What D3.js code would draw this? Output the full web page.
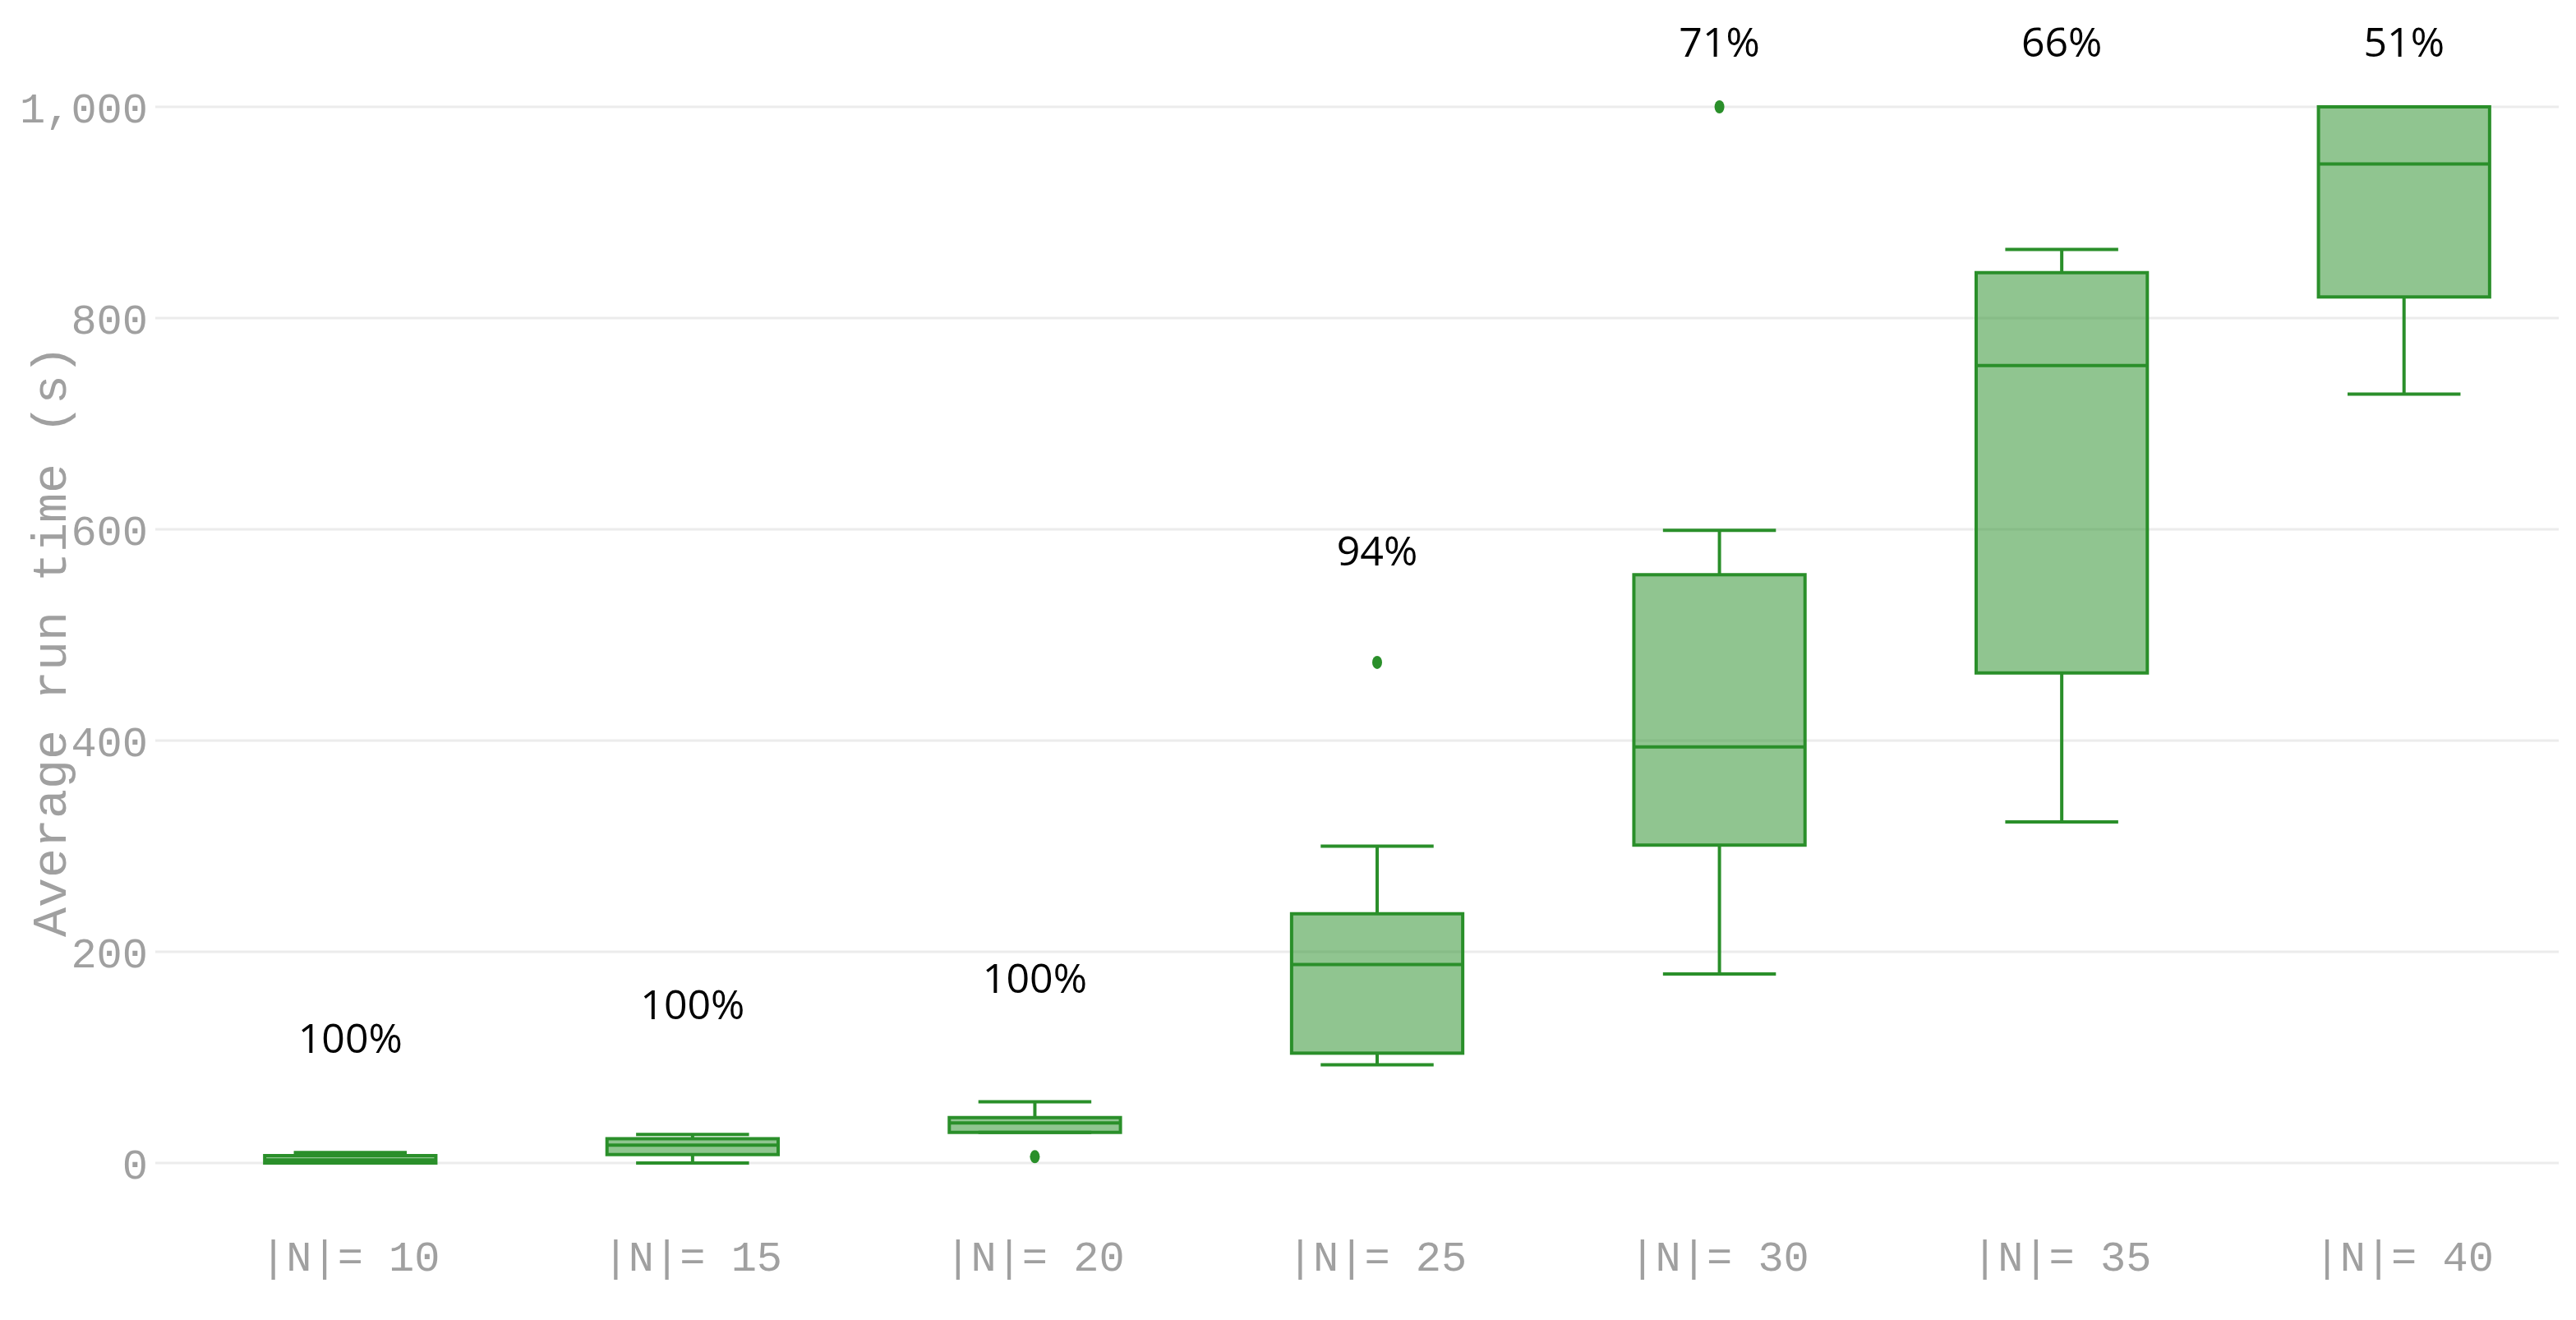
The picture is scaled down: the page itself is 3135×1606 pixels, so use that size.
<!DOCTYPE html>
<html><head><meta charset="utf-8">
<script src="https://cdn.jsdelivr.net/npm/d3@7"></script>
<style>body{margin:0;background:#fff}</style></head>
<body><svg id="c" width="3135" height="1606"></svg>
<script>
const categories = ["|N|= 10","|N|= 15","|N|= 20","|N|= 25","|N|= 30","|N|= 35","|N|= 40"];
const whiskerLow  = [0, 0, 29, 93, 179, 323, 728];
const q1          = [0, 8, 29, 104, 301, 464, 820];
const median      = [3, 17, 38, 188, 394, 755, 946];
const q3          = [7, 23, 43, 236, 557, 843, 1000];
const whiskerHigh = [10, 27, 58, 300, 599, 865, 1000];
const outliers    = [[], [], [6], [474], [1000], [], []];
const successLabels = ["100%","100%","100%","94%","71%","66%","51%"];
const labelValue  = [118, 150, 175, 579, 1061, 1061, 1061];
const yTicks = [0, 200, 400, 600, 800, 1000];

const svg = d3.select("#c");
const y = d3.scaleLinear().domain([0,1000]).range([1415,130]);
const x = d3.scaleBand().domain(categories).range([218,3134]).paddingInner(0.5).paddingOuter(0.25);
const bw = x.bandwidth();
const cx = c => x(c) + bw/2;
const green = "#2a8f2a", fill = "rgba(34,139,34,0.5)";

// gridlines
svg.append("g").selectAll("line").data(yTicks).join("line")
  .attr("x1",189).attr("x2",3114).attr("y1",d=>y(d)).attr("y2",d=>y(d))
  .attr("stroke","#ececec").attr("stroke-width",3);

// y axis labels
const yAxis = svg.append("g").attr("transform","translate(180,0)")
  .call(d3.axisLeft(y).tickValues(yTicks).tickSize(0).tickPadding(0));
yAxis.select(".domain").remove();
yAxis.selectAll("text").attr("font-family","Liberation Mono").attr("font-size",52)
  .attr("fill","#a0a0a0").attr("dy","0.35em");

// x axis labels
const xAxis = svg.append("g").attr("transform","translate(0,1510)")
  .call(d3.axisBottom(x).tickSize(0).tickPadding(0));
xAxis.select(".domain").remove();
xAxis.selectAll("text").attr("font-family","Liberation Mono").attr("font-size",52)
  .attr("fill","#a0a0a0").attr("dy","0.7em");

// y title
svg.append("text").attr("transform","translate(80,780) rotate(-90)")
  .attr("text-anchor","middle").attr("font-family","Liberation Mono").attr("font-size",60)
  .attr("fill","#a0a0a0").text("Average run time (s)");

const g = svg.append("g");
categories.forEach((c,i)=>{
  const xc = cx(c);
  const wq = bw/2*0.66;
  g.append("line").attr("x1",xc).attr("x2",xc).attr("y1",y(whiskerHigh[i])).attr("y2",y(q3[i]))
    .attr("stroke",green).attr("stroke-width",4);
  g.append("line").attr("x1",xc).attr("x2",xc).attr("y1",y(q1[i])).attr("y2",y(whiskerLow[i]))
    .attr("stroke",green).attr("stroke-width",4);
  g.append("line").attr("x1",xc-wq).attr("x2",xc+wq).attr("y1",y(whiskerHigh[i])).attr("y2",y(whiskerHigh[i]))
    .attr("stroke",green).attr("stroke-width",4);
  g.append("line").attr("x1",xc-wq).attr("x2",xc+wq).attr("y1",y(whiskerLow[i])).attr("y2",y(whiskerLow[i]))
    .attr("stroke",green).attr("stroke-width",4);
  g.append("rect").attr("x",x(c)).attr("width",bw).attr("y",y(q3[i])).attr("height",Math.max(y(q1[i])-y(q3[i]),2))
    .attr("fill",fill).attr("stroke",green).attr("stroke-width",4);
  g.append("line").attr("x1",x(c)).attr("x2",x(c)+bw).attr("y1",y(median[i])).attr("y2",y(median[i]))
    .attr("stroke",green).attr("stroke-width",4);
  outliers[i].forEach(o=>{
    g.append("ellipse").attr("cx",xc).attr("cy",y(o)).attr("rx",6).attr("ry",8).attr("fill",green);
  });
  g.append("text").attr("x",xc).attr("y",y(labelValue[i])).attr("text-anchor","middle")
    .attr("dy","0.35em").attr("font-family","Open Sans").attr("font-size",50).attr("fill","#000")
    .text(successLabels[i]);
});
</script></body></html>
